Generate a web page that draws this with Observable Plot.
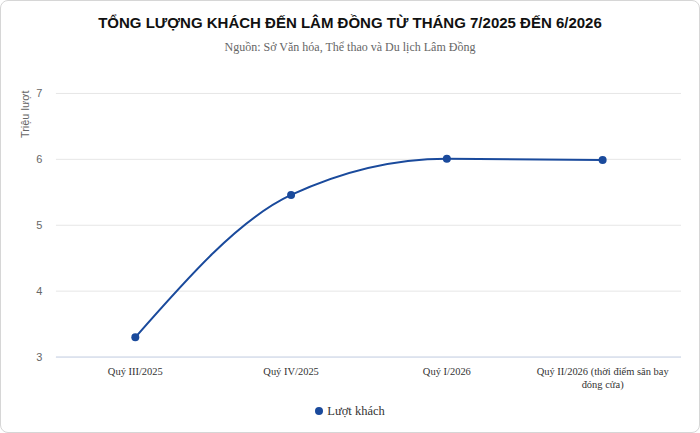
<!DOCTYPE html>
<html>
<head>
<meta charset="utf-8">
<script src="https://cdn.jsdelivr.net/npm/d3@7"></script>
<script src="https://cdn.jsdelivr.net/npm/@observablehq/plot@0.6"></script>
<style>
  html, body { margin: 0; padding: 0; background: #fff; }
  #wrap { position: relative; width: 698px; height: 431px; border: 1px solid #d6d6d6; border-radius: 8px; overflow: hidden; background: #fff; }
  #title { position: absolute; left: 0; width: 698px; top: 12px; text-align: center; font-family: "Liberation Sans", Arial, sans-serif; font-weight: bold; font-size: 15px; line-height: 20px; color: #111; }
  #subtitle { position: absolute; left: 0; width: 698px; top: 38px; text-align: center; font-family: "Liberation Serif", serif; font-size: 12px; line-height: 16px; color: #666; }
  #chart { position: absolute; left: -1px; top: 59px; }
  #legend { position: absolute; left: 0; width: 698px; top: 402px; text-align: center; font-family: "Liberation Serif", serif; font-size: 12.5px; line-height: 16px; color: #333; }
  #legend .dot { display: inline-block; width: 8px; height: 8px; border-radius: 50%; background: #1a4a9c; margin-right: 4px; vertical-align: 0px; }
</style>
</head>
<body>
<div id="wrap">
  <div id="title">TỔNG LƯỢNG KHÁCH ĐẾN LÂM ĐỒNG TỪ THÁNG 7/2025 ĐẾN 6/2026</div>
  <div id="subtitle">Nguồn: Sở Văn hóa, Thể thao và Du lịch Lâm Đồng</div>
  <div id="chart"></div>
  <div id="legend"><span class="dot"></span>Lượt khách</div>
</div>
<script>
const categories = ["Quý III/2025", "Quý IV/2025", "Quý I/2026", "Quý II/2026 (thời điểm sân bay đóng cửa)"];
const visitors = [3.30, 5.46, 6.01, 5.99];
const yTicks = [3, 4, 5, 6, 7];
const seriesName = "Lượt khách";
const yLabel = "Triệu lượt";

const data = categories.map((c, i) => ({ quarter: c, value: visitors[i] }));
const color = "#1a4a9c";

const chart = Plot.plot({
  width: 700,
  height: 340,
  marginTop: 33,
  marginLeft: 56,
  marginRight: 18,
  marginBottom: 43,
  style: { background: "transparent", overflow: "visible" },
  x: { type: "point", domain: categories, padding: 0.5, align: 0.5 },
  y: { domain: [3, 7] },
  marks: [
    Plot.gridY(yTicks, { stroke: "#e6e6e6", strokeOpacity: 1 }),
    Plot.ruleY([3], { stroke: "#ccd6eb", strokeOpacity: 1 }),
    Plot.axisY(yTicks, { tickSize: 0, tickPadding: 14, tickFormat: "d", fontFamily: "Liberation Sans, Arial, sans-serif", fontSize: 11, fill: "#666", label: null }),
    Plot.axisX({ tickSize: 0, tickPadding: 9, fontFamily: "Liberation Serif, serif", fontSize: 10.5, lineHeight: 1.25, fill: "#333", label: null,
      tickFormat: d => d.replace("sân bay ", "sân bay\n") }),
    Plot.text([yLabel], { frameAnchor: "top-left", dx: -35, dy: -3, rotate: -90, textAnchor: "end", fontFamily: "Liberation Sans, Arial, sans-serif", fontSize: 11, fill: "#666" }),
    Plot.line(data, { x: "quarter", y: "value", stroke: color, strokeWidth: 2, curve: "monotone-x" }),
    Plot.dot(data, { x: "quarter", y: "value", fill: color, r: 4 })
  ]
});
document.getElementById("chart").appendChild(chart);
</script>
</body>
</html>
